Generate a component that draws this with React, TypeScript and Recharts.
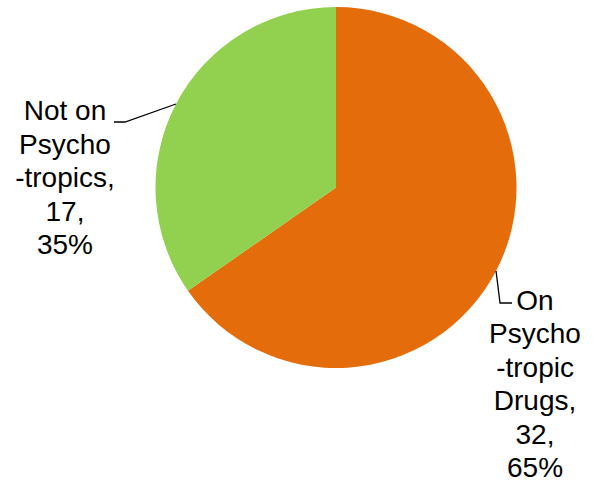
import { PieChart, Pie, Cell } from 'recharts';

const categories = ['On Psycho-tropic Drugs', 'Not on Psycho-tropics'];
const counts = [32, 17];
const percents = ['65%', '35%'];
const labelLines = [
  ['On', 'Psycho', '-tropic', 'Drugs,', '32,', '65%'],
  ['Not on', 'Psycho', '-tropics,', '17,', '35%'],
];

const COLORS = ['#E46C0A', '#92D050'];

// leader line / text offsets from the slice edge point at midAngle
const LABEL_LAYOUT = [
  { elbow: [4, 32], end: [16, 32], text: [39, 29] },
  { elbow: [-51, 18], end: [-62, 18], text: [-111, 6] },
];

const RAD = Math.PI / 180;
const LINE_H = 33.5;

const data = categories.map((name, i) => ({ name, value: counts[i], pct: percents[i] }));

function renderLabel(props: any) {
  const { cx, cy, midAngle, outerRadius, index } = props;
  const layout = LABEL_LAYOUT[index];
  const ex = cx + outerRadius * Math.cos(-midAngle * RAD);
  const ey = cy + outerRadius * Math.sin(-midAngle * RAD);
  const lines = labelLines[index];
  return (
    <g>
      <polyline
        points={`${ex},${ey} ${ex + layout.elbow[0]},${ey + layout.elbow[1]} ${ex + layout.end[0]},${ey + layout.end[1]}`}
        fill="none"
        stroke="#000"
        strokeWidth={1.3}
      />
      <text
        x={ex + layout.text[0]}
        y={ey + layout.text[1]}
        textAnchor="middle"
        dominantBaseline="central"
        fill="#000"
        fontSize={28}
        fontFamily="'Liberation Sans', Arial, sans-serif"
      >
        {lines.map((l, i) => (
          <tspan key={i} x={ex + layout.text[0]} y={ey + layout.text[1] + i * LINE_H}>
            {l}
          </tspan>
        ))}
      </text>
    </g>
  );
}

export default function App() {
  return (
    <div style={{ position: 'absolute', left: 0, top: 0, width: 595, height: 485, background: '#fff' }}>
      <PieChart width={595} height={485} margin={{ top: 0, right: 0, bottom: 0, left: 0 }}>
        <Pie
          data={data}
          dataKey="value"
          nameKey="name"
          cx={336}
          cy={187.5}
          outerRadius={180.5}
          startAngle={90}
          endAngle={-270}
          stroke="none"
          label={renderLabel}
          labelLine={false}
          isAnimationActive={false}
        >
          {data.map((d, i) => (
            <Cell key={d.name} fill={COLORS[i]} />
          ))}
        </Pie>
      </PieChart>
    </div>
  );
}
